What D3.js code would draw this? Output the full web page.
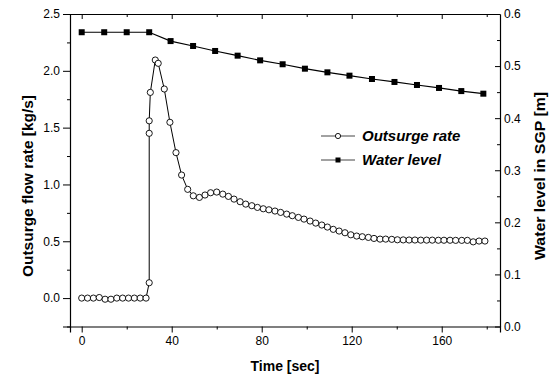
<!DOCTYPE html>
<html><head><meta charset="utf-8">
<script src="https://cdn.jsdelivr.net/npm/d3@7"></script>
<style>body{margin:0;background:#fff}svg{display:block}text{font-family:"Liberation Sans",Arial,sans-serif}</style>
</head><body>
<svg id="c" width="554" height="381"></svg>
<script>
const outsurgeTime = [0,2.6,5.2,7.8,10.4,13.0,15.6,18.2,20.8,23.4,26.0,28.6,
  30.0,30.0,30.0,30.5,32.7,34.0,36.7,39.2,41.9,44.4,47.1,49.6,52.3,54.8,57.3,60.0,
  62.7,65.2,67.7,70.4,72.9,75.6,78.1,80.7,83.2,85.9,88.4,91.1,93.6,96.3,98.8,101.5,
  104.0,106.7,109.2,111.8,114.4,117.0,119.6,122.2,124.7,127.4,129.9,132.6,135.1,137.8,
  140.3,142.9,145.5,148.1,150.7,153.3,155.8,158.5,161.0,163.7,166.2,168.9,171.4,174.0,176.6,179.2];
const outsurgeRate = [0,0,0,0.005,-0.01,-0.01,0,0,0,0,0,0,
  0.135,1.45,1.56,1.81,2.095,2.066,1.84,1.547,1.28,1.083,0.957,0.90,0.886,0.907,0.927,0.933,
  0.915,0.895,0.871,0.848,0.827,0.813,0.798,0.786,0.777,0.766,0.754,0.739,0.725,0.71,0.695,0.678,
  0.66,0.643,0.625,0.605,0.59,0.575,0.557,0.546,0.54,0.534,0.525,0.519,0.519,0.517,
  0.513,0.512,0.511,0.511,0.510,0.510,0.510,0.509,0.509,0.509,0.508,0.508,0.508,0.495,0.502,0.502];
const levelTime = [0,10,20,30,39.5,49.5,59.3,69.3,79.3,89.3,99.2,109.2,119,129,139,149,158.8,168.7,178.5];
const waterLevel = [0.565,0.565,0.565,0.565,0.548,0.5386,0.529,0.520,0.511,0.5035,0.495,0.488,0.4816,0.4752,0.4695,0.4637,0.458,0.452,0.447];
const xTicks = [0,40,80,120,160];
const xMinor = [20,60,100,140,180];
const leftTicks = [0,0.5,1.0,1.5,2.0,2.5];
const leftMinor = [-0.25,0.25,0.75,1.25,1.75,2.25];
const rightTicks = [0,0.1,0.2,0.3,0.4,0.5,0.6];
const rightMinor = [0.05,0.15,0.25,0.35,0.45,0.55];
const seriesNames = ["Outsurge rate","Water level"];

const L=70,R=500,T=14,B=326.5;
const svg=d3.select("#c");
const x=d3.scaleLinear().domain([-5.2,185.9]).range([L,R]);
const yL=d3.scaleLinear().domain([-0.25,2.5]).range([B,T]);
const yR=d3.scaleLinear().domain([0,0.6]).range([B,T]);

function styleAxis(g){g.selectAll("path").attr("stroke","#000").attr("stroke-width",1.2);
  g.selectAll("line").attr("stroke","#000");
  g.selectAll("text").attr("font-size",12).attr("fill","#000");}

// bottom
svg.append("g").attr("transform",`translate(0,${B})`).call(d3.axisBottom(x).tickValues(xTicks).tickSize(6).tickPadding(4).tickFormat(d3.format("d"))).call(styleAxis);
svg.append("g").attr("transform",`translate(0,${B})`).call(d3.axisBottom(x).tickValues(xMinor).tickSize(3).tickFormat("")).call(styleAxis).select("path").remove();
// top
svg.append("g").attr("transform",`translate(0,${T})`).call(d3.axisBottom(x).tickValues(xTicks.concat(xMinor)).tickSize(0).tickFormat("")).call(styleAxis);
svg.append("g").attr("transform",`translate(0,${T})`).call(d3.axisBottom(x).tickValues(xTicks).tickSize(5).tickFormat("")).call(styleAxis).select("path").remove();
svg.append("g").attr("transform",`translate(0,${T})`).call(d3.axisBottom(x).tickValues(xMinor).tickSize(3).tickFormat("")).call(styleAxis).select("path").remove();
// left
svg.append("g").attr("transform",`translate(${L},0)`).call(d3.axisLeft(yL).tickValues(leftTicks).tickSize(7).tickPadding(3).tickFormat(d3.format(".1f"))).call(styleAxis);
svg.append("g").attr("transform",`translate(${L},0)`).call(d3.axisLeft(yL).tickValues(leftMinor).tickSize(3).tickFormat("")).call(styleAxis).select("path").remove();
// right
svg.append("g").attr("transform",`translate(${R},0)`).call(d3.axisRight(yR).tickValues(rightTicks).tickSize(0).tickPadding(4).tickFormat(d3.format(".1f"))).call(styleAxis);
svg.append("g").attr("transform",`translate(${R},0)`).call(d3.axisLeft(yR).tickValues(rightTicks).tickSize(5).tickFormat("")).call(styleAxis).select("path").remove();
svg.append("g").attr("transform",`translate(${R},0)`).call(d3.axisLeft(yR).tickValues(rightMinor).tickSize(3).tickFormat("")).call(styleAxis).select("path").remove();

// titles
svg.append("text").attr("x",285).attr("y",371).attr("text-anchor","middle").attr("font-size",14).attr("font-weight","bold").text("Time [sec]");
svg.append("text").attr("transform","translate(33,186) rotate(-90)").attr("text-anchor","middle").attr("font-size",15).attr("font-weight","bold").attr("textLength",182).attr("lengthAdjust","spacingAndGlyphs").text("Outsurge flow rate [kg/s]");
svg.append("text").attr("transform","translate(545,176) rotate(-90)").attr("text-anchor","middle").attr("font-size",15).attr("font-weight","bold").attr("textLength",168).attr("lengthAdjust","spacingAndGlyphs").text("Water level in SGP [m]");

const od=outsurgeTime.map((t,i)=>[t,outsurgeRate[i]]);
const wd=levelTime.map((t,i)=>[t,waterLevel[i]]);
svg.append("path").attr("d",d3.line().x(d=>x(d[0])).y(d=>yL(d[1]))(od)).attr("fill","none").attr("stroke","#000").attr("stroke-width",1);
svg.append("path").attr("d",d3.line().x(d=>x(d[0])).y(d=>yR(d[1]))(wd)).attr("fill","none").attr("stroke","#000").attr("stroke-width",1.2);
svg.append("g").selectAll("circle").data(od).join("circle").attr("cx",d=>x(d[0])).attr("cy",d=>yL(d[1])).attr("r",3.1).attr("fill","#fff").attr("stroke","#000").attr("stroke-width",0.9);
svg.append("g").selectAll("rect").data(wd).join("rect").attr("x",d=>x(d[0])-3).attr("y",d=>yR(d[1])-3).attr("width",6).attr("height",6).attr("fill","#000");

// legend
const lg=svg.append("g");
[136,160].forEach((yy,i)=>{
  lg.append("line").attr("x1",321).attr("x2",355).attr("y1",yy).attr("y2",yy).attr("stroke","#444").attr("stroke-width",1);
  if(i===0) lg.append("circle").attr("cx",338).attr("cy",yy).attr("r",2.6).attr("fill","#fff").attr("stroke","#000").attr("stroke-width",0.9);
  else lg.append("rect").attr("x",335.5).attr("y",yy-2.5).attr("width",5).attr("height",5).attr("fill","#000");
  lg.append("text").attr("x",362).attr("y",yy+5).attr("font-size",15).attr("font-weight","bold").attr("font-style","italic").text(seriesNames[i]);
});
</script>
</body></html>
